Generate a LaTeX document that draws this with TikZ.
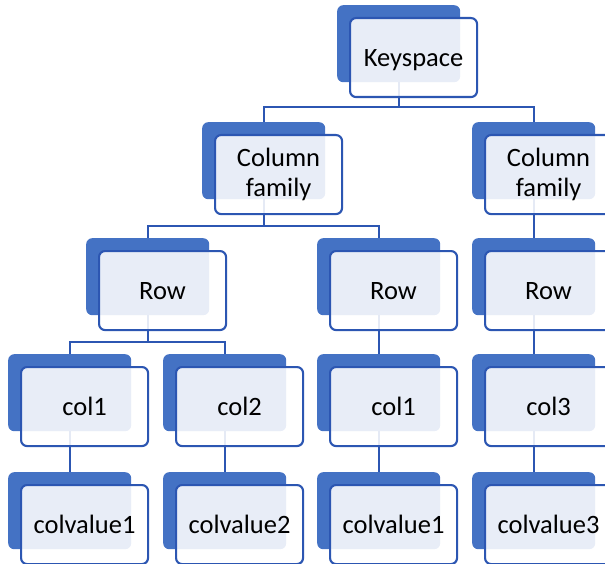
\documentclass[tikz,border=0pt]{standalone}
\usepackage{fontspec}
\setmainfont{Carlito}
\pgfdeclarelayer{bg}
\pgfsetlayers{bg,main}
\definecolor{shadeblue}{HTML}{4472C4}
\definecolor{edgeblue}{RGB}{44,86,178}
\tikzset{
  backbox/.style={rectangle, rounded corners=6bp, fill=shadeblue, draw=none,
    minimum width=123bp, minimum height=77bp, inner sep=0pt, anchor=north west},
  frontbox/.style={rectangle, rounded corners=6bp, fill=white, fill opacity=0.88,
    text opacity=1, draw=edgeblue, draw opacity=1, line width=2.1bp,
    minimum width=127bp, minimum height=79bp, inner sep=0pt, anchor=north west,
    align=center, font=\fontsize{26.5bp}{30bp}\selectfont, text=black},
  oneline/.style={text height=17bp, text depth=0bp},
  conn/.style={draw=edgeblue, line width=2.1bp},
}
% a stacked box: shaded back card (name#2b) and the labelled front card (name#2)
\newcommand\stackbox[5][]{%
  \node[backbox] (#2b) at (#3,#4) {};
  \node[frontbox,#1] (#2) at (#3+12,#4+12) {#5};
}
\begin{document}
\begin{tikzpicture}[x=1bp,y=-1bp]
  \useasboundingbox (0,0) rectangle (605,564);
  % bus levels of the tree
  \coordinate (bus1) at (0,107);
  \coordinate (bus2) at (0,226);
  \coordinate (bus3) at (0,342);

  \stackbox[oneline]{ks}{337}{5}{Keyspace}
  \stackbox{cfa}{202}{122}{Column\\family}
  \stackbox{cfb}{472}{122}{Column\\family}

  \stackbox[oneline]{rowa}{86}{238}{Row}
  \stackbox[oneline]{rowb}{317}{238}{Row}
  \stackbox[oneline]{rowc}{472}{238}{Row}

  \stackbox[oneline]{cola}{8}{354}{col1}
  \stackbox[oneline]{colb}{163}{354}{col2}
  \stackbox[oneline]{colc}{317}{354}{col1}
  \stackbox[oneline]{cold}{472}{354}{col3}

  \stackbox[oneline]{vala}{8}{472}{colvalue1}
  \stackbox[oneline]{valb}{163}{472}{colvalue2}
  \stackbox[oneline]{valc}{317}{472}{colvalue1}
  \stackbox[oneline]{vald}{472}{472}{colvalue3}

  \begin{pgfonlayer}{bg}
    % keyspace to column families
    \draw[conn] (ksb.south) -- (ksb.south |- bus1);
    \draw[conn] (cfab.north) |- (bus1 -| cfbb.north) -- (cfbb.north);
    % column families to rows
    \draw[conn] (cfab.south) -- (cfab.south |- bus2);
    \draw[conn] (rowab.north) |- (bus2 -| rowbb.north) -- (rowbb.north);
    \draw[conn] (cfbb.south) -- (rowcb.north);
    % rows to columns
    \draw[conn] (rowab.south) -- (rowab.south |- bus3);
    \draw[conn] (colab.north) |- (bus3 -| colbb.north) -- (colbb.north);
    \draw[conn] (rowbb.south) -- (colcb.north);
    \draw[conn] (rowcb.south) -- (coldb.north);
    % columns to values
    \draw[conn] (colab.south) -- (valab.north);
    \draw[conn] (colbb.south) -- (valbb.north);
    \draw[conn] (colcb.south) -- (valcb.north);
    \draw[conn] (coldb.south) -- (valdb.north);
  \end{pgfonlayer}
\end{tikzpicture}
\end{document}
